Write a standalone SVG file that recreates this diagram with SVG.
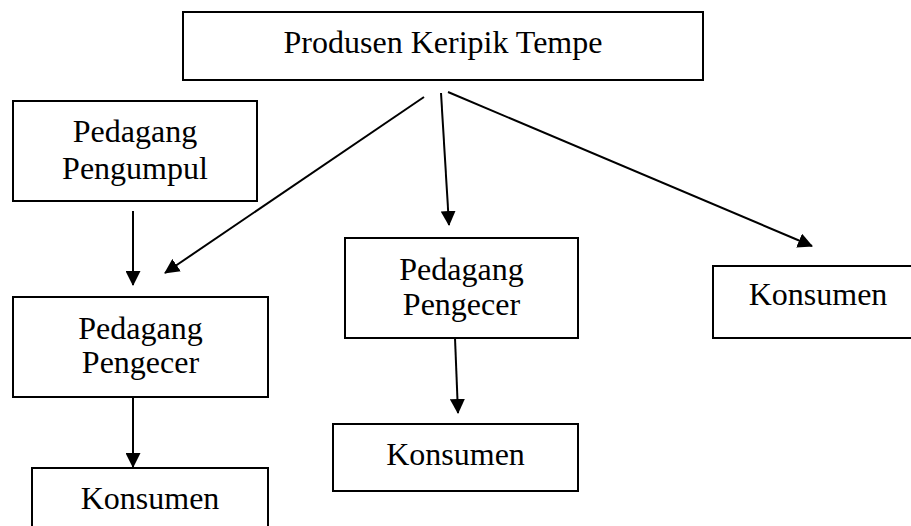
<svg xmlns="http://www.w3.org/2000/svg" width="911" height="526" viewBox="0 0 911 526">
<style>
.box{fill:#fff;stroke:#000;stroke-width:2}
.t{font-family:"Liberation Serif","Times New Roman",serif;font-size:32px;fill:#000;text-anchor:middle}
.c{stroke:#000;stroke-width:2;fill:none;marker-end:url(#ah)}
</style>
<defs>
<marker id="ah" viewBox="0 0 15 15" refX="14" refY="7.5" markerWidth="15" markerHeight="15" markerUnits="userSpaceOnUse" orient="auto">
<path d="M0,0 L15,7.5 L0,15 z" fill="#000"/>
</marker>
</defs>
<rect width="911" height="526" fill="#fff"/>
<g id="connectors">
<line class="c" x1="133" y1="211" x2="133" y2="285"/>
<line class="c" x1="133" y1="397" x2="133" y2="467"/>
<line class="c" x1="424" y1="97" x2="165" y2="273"/>
<line class="c" x1="441" y1="93" x2="449" y2="225"/>
<line class="c" x1="448" y1="92" x2="812" y2="246"/>
<line class="c" x1="455" y1="338" x2="458" y2="413"/>
</g>
<g id="produsen">
<rect class="box" x="183" y="12" width="520" height="68"/>
<text class="t" x="443" y="53">Produsen Keripik Tempe</text>
</g>
<g id="pengumpul">
<rect class="box" x="13" y="101" width="244" height="100"/>
<text class="t" x="135" y="142">Pedagang</text>
<text class="t" x="135" y="179">Pengumpul</text>
</g>
<g id="pengecer1">
<rect class="box" x="13" y="297" width="255" height="100"/>
<text class="t" x="140.5" y="339">Pedagang</text>
<text class="t" x="140.5" y="373">Pengecer</text>
</g>
<g id="konsumen1">
<rect class="box" x="32" y="468" width="236" height="70"/>
<text class="t" x="150" y="509">Konsumen</text>
</g>
<g id="pengecer2">
<rect class="box" x="345" y="238" width="233" height="100"/>
<text class="t" x="461.5" y="280">Pedagang</text>
<text class="t" x="461.5" y="315">Pengecer</text>
</g>
<g id="konsumen2">
<rect class="box" x="333" y="424" width="245" height="67"/>
<text class="t" x="455.5" y="465">Konsumen</text>
</g>
<g id="konsumen3">
<rect class="box" x="713" y="266" width="210" height="72"/>
<text class="t" x="818" y="305">Konsumen</text>
</g>
</svg>
